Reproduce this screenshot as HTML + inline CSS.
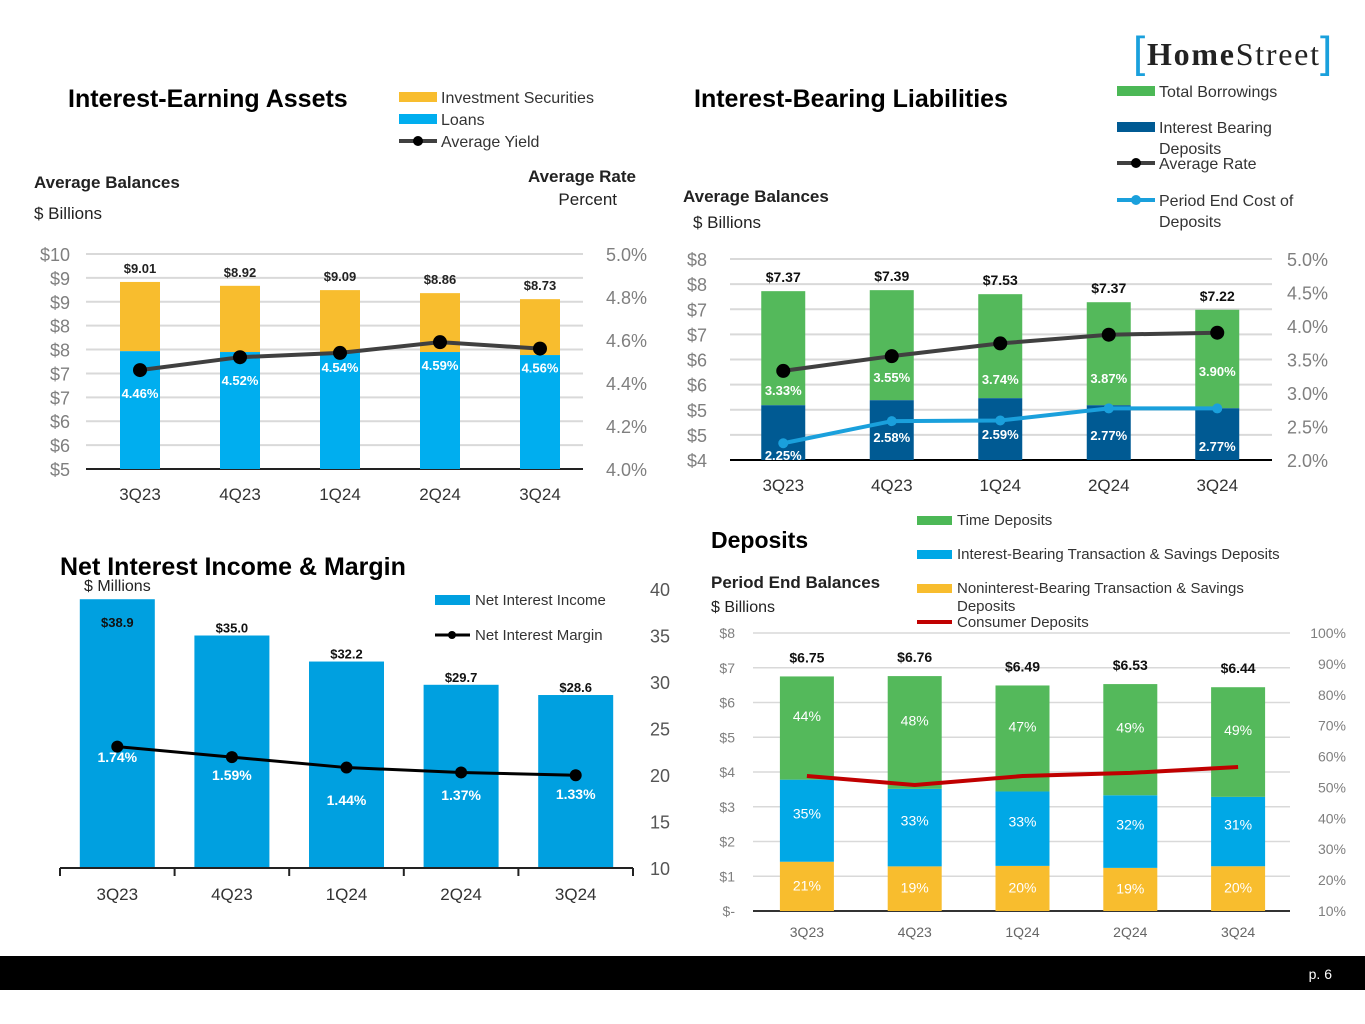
<!DOCTYPE html>
<html><head><meta charset="utf-8"><style>
html,body{margin:0;padding:0;background:#fff;}
svg{display:block;font-family:"Liberation Sans",sans-serif;}
</style></head><body>
<svg id="s" width="1365" height="1024" viewBox="0 0 1365 1024" xmlns="http://www.w3.org/2000/svg">
<g>
<text x="1133" y="67" font-size="44" fill="#1aa0dc" font-family="Liberation Sans" font-weight="300">[</text>
<text x="1147" y="65" font-size="32" fill="#222" font-family="Liberation Serif" textLength="172"><tspan font-weight="bold">Home</tspan>Street</text>
<text x="1320" y="67" font-size="44" fill="#1aa0dc">]</text>
</g>
<rect x="0" y="956" width="1365" height="34" fill="#000"/>
<text x="1332" y="979" font-size="14" fill="#fff" text-anchor="end">p. 6</text>

<text x="68" y="107" font-size="25" font-weight="bold" fill="#000">Interest-Earning Assets</text>
<rect x="399" y="92" width="38" height="10" fill="#f8bd2e"/>
<text x="441" y="103" font-size="16" fill="#333">Investment Securities</text>
<rect x="399" y="114" width="38" height="10" fill="#00aeef"/>
<text x="441" y="125" font-size="16" fill="#333">Loans</text>
<line x1="399" y1="141" x2="437" y2="141" stroke="#404040" stroke-width="4"/>
<circle cx="418" cy="141" r="5" fill="#000"/>
<text x="441" y="147" font-size="16" fill="#333">Average Yield</text>
<text x="34" y="188" font-size="17" font-weight="bold" fill="#222">Average Balances</text>
<text x="34" y="219" font-size="17" fill="#222">$ Billions</text>
<text x="636" y="182" font-size="17" font-weight="bold" fill="#222" text-anchor="end">Average Rate</text>
<text x="617" y="205" font-size="17" fill="#222" text-anchor="end">Percent</text>

<text x="694" y="107" font-size="25" font-weight="bold" fill="#000">Interest-Bearing Liabilities</text>
<rect x="1117" y="86" width="38" height="10" fill="#4cb856"/>
<text x="1159" y="97" font-size="16" fill="#333">Total Borrowings</text>
<rect x="1117" y="122" width="38" height="10" fill="#005a93"/>
<text x="1159" y="133" font-size="16" fill="#333">Interest Bearing</text>
<text x="1159" y="154" font-size="16" fill="#333">Deposits</text>
<line x1="1117" y1="163" x2="1155" y2="163" stroke="#404040" stroke-width="4"/>
<circle cx="1136" cy="163" r="5" fill="#000"/>
<text x="1159" y="169" font-size="16" fill="#333">Average Rate</text>
<line x1="1117" y1="200" x2="1155" y2="200" stroke="#1aa0dc" stroke-width="4"/>
<circle cx="1136" cy="200" r="5" fill="#1aa0dc"/>
<text x="1159" y="206" font-size="16" fill="#333">Period End Cost of</text>
<text x="1159" y="227" font-size="16" fill="#333">Deposits</text>
<text x="683" y="202" font-size="17" font-weight="bold" fill="#222">Average Balances</text>
<text x="693" y="228" font-size="17" fill="#222">$ Billions</text>

<text x="60" y="575" font-size="25" font-weight="bold" fill="#000">Net Interest Income &amp; Margin</text>
<text x="84" y="591" font-size="16" fill="#222">$ Millions</text>
<rect x="435" y="595" width="35" height="10" fill="#00a0e0"/>
<text x="475" y="605" font-size="15" fill="#333">Net Interest Income</text>
<line x1="435" y1="635" x2="470" y2="635" stroke="#000" stroke-width="3"/>
<circle cx="452" cy="635" r="4" fill="#000"/>
<text x="475" y="640" font-size="15" fill="#333">Net Interest Margin</text>

<text x="711" y="548" font-size="23" font-weight="bold" fill="#000">Deposits</text>
<text x="711" y="588" font-size="17" font-weight="bold" fill="#222">Period End Balances</text>
<text x="711" y="612" font-size="16" fill="#222">$ Billions</text>
<rect x="917" y="516" width="35" height="9" fill="#4cb856"/>
<text x="957" y="525" font-size="15" fill="#333">Time Deposits</text>
<rect x="917" y="550" width="35" height="9" fill="#00a8e6"/>
<text x="957" y="559" font-size="15" fill="#333">Interest-Bearing Transaction &amp; Savings Deposits</text>
<rect x="917" y="584" width="35" height="9" fill="#f8bd2e"/>
<text x="957" y="593" font-size="15" fill="#333">Noninterest-Bearing Transaction &amp; Savings</text>
<text x="957" y="611" font-size="15" fill="#333">Deposits</text>
<line x1="917" y1="622" x2="952" y2="622" stroke="#c00000" stroke-width="4"/>
<text x="957" y="627" font-size="15" fill="#333">Consumer Deposits</text>
<g id="marks"></g>
</svg>
<script>
const c1Cats = ["3Q23","4Q23","1Q24","2Q24","3Q24"];
const c1Totals = [9.35,9.26,9.16,9.09,8.95];
const c1Loans = [7.74,7.72,7.72,7.72,7.65];
const c1Yield = [4.46,4.52,4.54,4.59,4.56];
const c1TotalLabels = ["$9.01","$8.92","$9.09","$8.86","$8.73"];
const c1LeftTicks = ["$5","$6","$6","$7","$7","$8","$8","$9","$9","$10"];
const c1RightTicks = [4.0,4.2,4.4,4.6,4.8,5.0];
const c2Cats = ["3Q23","4Q23","1Q24","2Q24","3Q24"];
const c2Totals = [7.36,7.38,7.30,7.14,6.99];
const c2Deposits = [5.09,5.19,5.23,5.09,5.03];
const c2AvgRate = [3.33,3.55,3.74,3.87,3.90];
const c2Cost = [2.25,2.58,2.59,2.77,2.77];
const c2TotalLabels = ["$7.37","$7.39","$7.53","$7.37","$7.22"];
const c2LeftTicks = ["$4","$5","$5","$6","$6","$7","$7","$8","$8"];
const c2RightTicks = [2.0,2.5,3.0,3.5,4.0,4.5,5.0];
const c3Cats = ["3Q23","4Q23","1Q24","2Q24","3Q24"];
const c3NII = [38.9,35.0,32.2,29.7,28.6];
const c3NIM = [1.74,1.59,1.44,1.37,1.33];
const c3Ticks = [10,15,20,25,30,35,40];
const c4Cats = ["3Q23","4Q23","1Q24","2Q24","3Q24"];
const c4Totals = [6.75,6.76,6.49,6.53,6.44];
const c4NIB = [21,19,20,19,20];
const c4IB = [35,33,33,32,31];
const c4Time = [44,48,47,49,49];
const c4Consumer = [53.7,50.8,53.7,54.7,56.6];
const c4LeftTicks = ["$-","$1","$2","$3","$4","$5","$6","$7","$8"];
const c4RightTicks = [10,20,30,40,50,60,70,80,90,100];

const NS="http://www.w3.org/2000/svg";
const g=document.getElementById('marks');
function mk(tag,attrs,text){const e=document.createElementNS(NS,tag);for(const k in attrs)e.setAttribute(k,attrs[k]);if(text!==undefined)e.textContent=text;g.appendChild(e);return e;}

(function(){
  const x0=90,band=100,yB=469,yT=254;
  const yL=v=>yB-(v-5)/5*(yB-yT);
  const yR=v=>yB-(v-4)/1*(yB-yT);
  const cx=i=>x0+band/2+i*band;
  c1LeftTicks.forEach((t,i)=>{const y=yB-i*(yB-yT)/(c1LeftTicks.length-1);
    let e=mk('line',{x1:86,x2:583,y1:y,y2:y,stroke:i==0?'#222':'#d9d9d9','stroke-width':2});
    
    e=mk('text',{x:70,y:y+7,'font-size':18,fill:'#7f7f7f','text-anchor':'end'},t);
    });
  c1RightTicks.forEach(v=>{const e=mk('text',{x:606,y:yR(v)+7,'font-size':18,fill:'#7f7f7f'},v.toFixed(1)+'%');
    });
  c1Cats.forEach((c,i)=>{
    let e=mk('rect',{x:cx(i)-20,y:yL(c1Totals[i]),width:40,height:yL(c1Loans[i])-yL(c1Totals[i]),fill:'#f8bd2e'});
    
    e=mk('rect',{x:cx(i)-20,y:yL(c1Loans[i]),width:40,height:yB-yL(c1Loans[i]),fill:'#00aeef'});
    
    e=mk('text',{x:cx(i),y:yL(c1Totals[i])-9,'font-size':13,'font-weight':'bold',fill:'#222','text-anchor':'middle'},c1TotalLabels[i]);
    
    e=mk('text',{x:cx(i),y:yR(c1Yield[i])+28-(i==2?9:0)-(i==4?4:0),'font-size':13,'font-weight':'bold',fill:'#fff','text-anchor':'middle'},c1Yield[i].toFixed(2)+'%');
    
    e=mk('text',{x:cx(i),y:500,'font-size':17,fill:'#333','text-anchor':'middle'},c);
    });
  let e=mk('polyline',{points:c1Yield.map((v,i)=>cx(i)+','+yR(v)).join(' '),fill:'none',stroke:'#404040','stroke-width':4});
  
  c1Yield.forEach((v,i)=>{const d=mk('circle',{cx:cx(i),cy:yR(v),r:7,fill:'#000'});
    });
})();

(function(){
  const x0=729,band=108.5,yB=460,yT=259;
  const yL=v=>yB-(v-4)/4*(yB-yT);
  const yR=v=>yB-(v-2)/3*(yB-yT);
  const cx=i=>x0+band/2+i*band;
  c2LeftTicks.forEach((t,i)=>{const y=yB-i*(yB-yT)/(c2LeftTicks.length-1);
    let e=mk('line',{x1:730,x2:1272,y1:y,y2:y,stroke:i==0?'#000':'#d9d9d9','stroke-width':2});
    
    e=mk('text',{x:707,y:y+7,'font-size':18,fill:'#7f7f7f','text-anchor':'end'},t);
    });
  c2RightTicks.forEach(v=>{const e=mk('text',{x:1287,y:yR(v)+7,'font-size':18,fill:'#7f7f7f'},v.toFixed(1)+'%');
    });
  c2Cats.forEach((c,i)=>{
    let e=mk('rect',{x:cx(i)-22,y:yL(c2Totals[i]),width:44,height:yL(c2Deposits[i])-yL(c2Totals[i]),fill:'#54b95b'});
    
    e=mk('rect',{x:cx(i)-22,y:yL(c2Deposits[i]),width:44,height:yB-yL(c2Deposits[i]),fill:'#005a93'});
    
    e=mk('text',{x:cx(i),y:yL(c2Totals[i])-9,'font-size':14,'font-weight':'bold',fill:'#111','text-anchor':'middle'},c2TotalLabels[i]);
    
    e=mk('text',{x:cx(i),y:[395,382,384,383,376][i],'font-size':13,'font-weight':'bold',fill:'#fff','text-anchor':'middle'},c2AvgRate[i].toFixed(2)+'%');
    
    e=mk('text',{x:cx(i),y:[460,442,439,440,451][i],'font-size':13,'font-weight':'bold',fill:'#fff','text-anchor':'middle'},c2Cost[i].toFixed(2)+'%');
    
    e=mk('text',{x:cx(i),y:491,'font-size':17,fill:'#333','text-anchor':'middle'},c);
    });
  let e=mk('polyline',{points:c2AvgRate.map((v,i)=>cx(i)+','+yR(v)).join(' '),fill:'none',stroke:'#404040','stroke-width':4});
  
  e=mk('polyline',{points:c2Cost.map((v,i)=>cx(i)+','+yR(v)).join(' '),fill:'none',stroke:'#1aa0dc','stroke-width':4});
  
  c2AvgRate.forEach((v,i)=>{const d=mk('circle',{cx:cx(i),cy:yR(v),r:7,fill:'#000'});
    });
  c2Cost.forEach((v,i)=>{const d=mk('circle',{cx:cx(i),cy:yR(v),r:5,fill:'#1aa0dc'});
    });
})();

(function(){
  const x0=60,band=114.6,yB=868,yT=589;
  const yV=v=>yB-(v-10)/30*(yB-yT);
  const yM=v=>yB-v/4*(yB-yT);
  const cx=i=>x0+band/2+i*band;
  c3Ticks.forEach(v=>{const e=mk('text',{x:650,y:yV(v)+7,'font-size':18,fill:'#555'},v);
    });
  c3Cats.forEach((c,i)=>{
    let e=mk('rect',{x:cx(i)-37.5,y:yV(c3NII[i]),width:75,height:yB-yV(c3NII[i]),fill:'#00a0e0'});
    
    e=mk('text',{x:cx(i),y:yV(c3NII[i])+(i==0?28:-3),'font-size':13,'font-weight':'bold',fill:'#111','text-anchor':'middle'},'$'+c3NII[i].toFixed(1));
    
    e=mk('text',{x:cx(i),y:[762,780,805,800,799][i],'font-size':14,'font-weight':'bold',fill:'#fff','text-anchor':'middle'},c3NIM[i].toFixed(2)+'%');
    
    e=mk('text',{x:cx(i),y:900,'font-size':17,fill:'#333','text-anchor':'middle'},c);
    });
  let e=mk('line',{x1:60,x2:633,y1:yB,y2:yB,stroke:'#222','stroke-width':2});
  
  for(let i=0;i<=c3Cats.length;i++){e=mk('line',{x1:x0+i*band,x2:x0+i*band,y1:yB,y2:yB+8,stroke:'#222','stroke-width':2});
    }
  e=mk('polyline',{points:c3NIM.map((v,i)=>cx(i)+','+yM(v)).join(' '),fill:'none',stroke:'#000','stroke-width':3});
  
  c3NIM.forEach((v,i)=>{const d=mk('circle',{cx:cx(i),cy:yM(v),r:6,fill:'#000'});
    });
})();

(function(){
  const x0=753,band=107.8,yB=911,yT=633;
  const yL=v=>yB-v/8*(yB-yT);
  const yR=v=>yB-(v-10)/90*(yB-yT);
  const cx=i=>x0+band/2+i*band;
  c4LeftTicks.forEach((t,i)=>{const y=yB-i*(yB-yT)/(c4LeftTicks.length-1);
    let e=mk('line',{x1:753,x2:1290,y1:y,y2:y,stroke:i==0?'#333':'#d9d9d9','stroke-width':i==0?2:1.5});
    
    e=mk('text',{x:735,y:y+5,'font-size':14,fill:'#7f7f7f','text-anchor':'end'},t);
    });
  c4RightTicks.forEach(v=>{const e=mk('text',{x:1346,y:yR(v)+5,'font-size':14,fill:'#7f7f7f','text-anchor':'end'},v+'%');
    });
  c4Cats.forEach((c,i)=>{
    const T=c4Totals[i];let base=0;
    [[c4NIB,'#f8bd2e','nib'],[c4IB,'#00a8e6','ib'],[c4Time,'#54b95b','time']].forEach(([arr,col,nm])=>{
      const v=T*arr[i]/100;const y1=yL(base+v),y0=yL(base);
      let e=mk('rect',{x:cx(i)-27,y:y1,width:54,height:y0-y1,fill:col});
      
      e=mk('text',{x:cx(i),y:(y0+y1)/2+(nm=='time'?-7:(nm=='ib'?-2:4)),'font-size':14,fill:'#fff','text-anchor':'middle'},arr[i]+'%');
      
      base+=v;});
    let e=mk('text',{x:cx(i),y:yL(T)-14,'font-size':14,'font-weight':'bold',fill:'#111','text-anchor':'middle'},'$'+T.toFixed(2));
    
    e=mk('text',{x:cx(i),y:937,'font-size':14,fill:'#666','text-anchor':'middle'},c);
    });
  let e=mk('polyline',{points:c4Consumer.map((v,i)=>cx(i)+','+yR(v)).join(' '),fill:'none',stroke:'#c00000','stroke-width':4});
  
})();
</script>
</body></html>
